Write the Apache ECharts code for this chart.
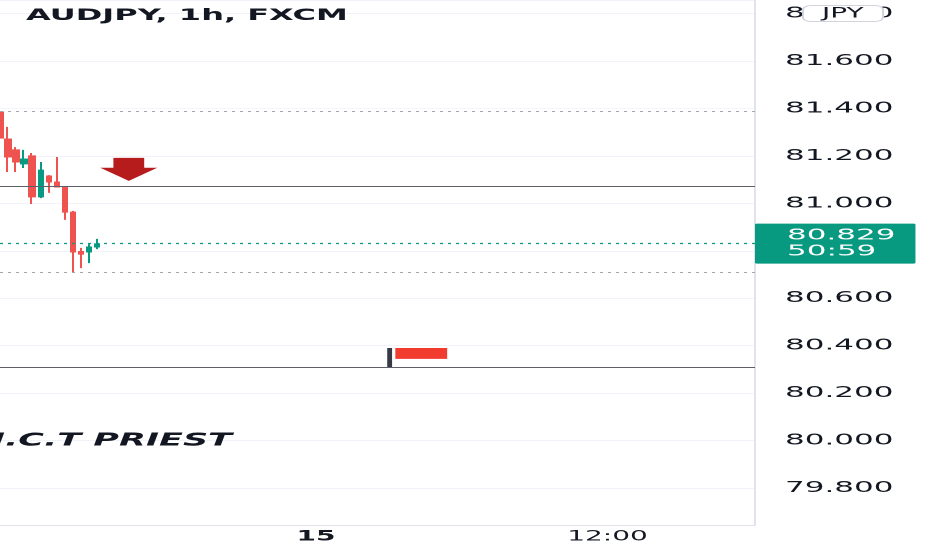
<!DOCTYPE html>
<html>
<head>
<meta charset="utf-8">
<script src="https://cdn.jsdelivr.net/npm/echarts@6/dist/echarts.min.js"></script>
<style>
  html, body { margin: 0; padding: 0; background: #ffffff; overflow: hidden; }
  #chart { width: 466px; height: 550px; transform: scaleX(2); transform-origin: 0 0; }
</style>
</head>
<body>
<div id="chart"></div>
<script>
// ---- data ----
const chartTitle = 'AUDJPY, 1h, FXCM';
const currencyBadge = 'JPY';
const watermarkText = 'I.C.T PRIEST';
const barIndex = [0, 1, 2, 3, 4, 5, 6, 7, 8, 9, 10, 11, 12];
const opens  = [81.385, 81.271, 81.225, 81.166, 81.200, 81.027, 81.115, 81.090, 81.069, 80.963, 80.797, 80.795, 80.816];
const closes = [81.275, 81.195, 81.174, 81.187, 81.027, 81.140, 81.090, 81.069, 80.963, 80.795, 80.786, 80.816, 80.829];
const lows   = [81.267, 81.132, 81.132, 81.149, 80.997, 81.022, 81.044, 81.069, 80.930, 80.706, 80.727, 80.748, 80.807];
const highs  = [81.410, 81.322, 81.237, 81.225, 81.212, 81.174, 81.119, 81.195, 81.073, 80.968, 80.812, 80.828, 80.850];
const countdown = '50:59';
const dottedLevels = [81.393, 80.706];
const solidLevels = [81.069, 80.306];
const timeTickIndex = [39, 75];
const timeTickLabels = ['15', '12:00'];
const yTickInterval = 0.2;
const arrowPoint = [15.9, 81.143];
const flagPole = [[47.8, 80.390], [48.4, 80.306]];
const flagCloth = [[48.8, 80.390], [55.2, 80.344]];

// ---- build ----
const candleData = barIndex.map((x, i) => [x, opens[i], closes[i], lows[i], highs[i]]);
const lastPrice = closes[closes.length - 1];

const FONT = 'DejaVu Sans';
const RED = '#ef5350';
const GREEN = '#089981';

const chart = echarts.init(document.getElementById('chart'), null, { renderer: 'canvas', devicePixelRatio: 2 });

const markLines = [];
dottedLevels.forEach(v => markLines.push({
  yAxis: v, label: { show: false },
  lineStyle: { color: '#a3a6af', width: 1, type: [1.5, 2.5] }
}));
solidLevels.forEach(v => markLines.push({
  yAxis: v, label: { show: false },
  lineStyle: { color: '#5d606b', width: 1, type: 'solid' }
}));
markLines.push({
  yAxis: lastPrice,
  lineStyle: { color: GREEN, width: 1.3, type: [1.5, 2.5], opacity: 1 },
  label: {
    show: true, position: 'end', distance: 0,
    formatter: lastPrice.toFixed(3) + '\n' + countdown,
    backgroundColor: GREEN, color: '#ffffff',
    fontFamily: FONT, fontSize: 15.5, lineHeight: 16,
    padding: [4, 10, 4, 16], borderRadius: 1
  }
});

const option = {
  animation: false,
  backgroundColor: '#ffffff',
  title: [
    {
      text: chartTitle, left: 13, top: 8, padding: 0,
      textStyle: { fontFamily: FONT, fontWeight: 'bold', fontSize: 16, color: '#131722' }
    },
    {
      text: currencyBadge, left: 401, top: 5, padding: [2, 10, 1, 10],
      borderColor: '#d1d4dc', borderWidth: 1, borderRadius: 4, backgroundColor: '#ffffff',
      textStyle: { fontFamily: FONT, fontWeight: 'normal', fontSize: 14, color: '#131722' }
    }
  ],
  graphic: [
    {
      type: 'text', left: -4, top: 432, z: 10,
      style: { text: watermarkText, font: 'italic bold 17.5px "DejaVu Sans"', fill: '#131722' }
    }
  ],
  grid: { left: 0, right: 88.5, top: 0, bottom: 25 },
  xAxis: {
    type: 'value',
    min: 0, max: 93.2,
    axisLine: { show: true, onZero: false, lineStyle: { color: '#e0e3eb' } },
    axisTick: { show: false },
    splitLine: { show: false },
    axisLabel: {
      customValues: timeTickIndex,
      margin: 5,
      fontFamily: FONT, fontSize: 14, color: '#131722',
      formatter: function (v) {
        const k = timeTickIndex.indexOf(Math.round(v));
        if (k < 0) return '';
        return k === 0 ? '{day|' + timeTickLabels[k] + '}' : timeTickLabels[k];
      },
      rich: { day: { fontFamily: FONT, fontSize: 14, fontWeight: 'bold', color: '#131722' } }
    }
  },
  yAxis: {
    type: 'value', position: 'right', scale: true,
    min: 79.644, max: 81.857,
    minInterval: yTickInterval, maxInterval: yTickInterval,
    axisLine: { show: true, onZero: false, lineStyle: { color: '#e0e3eb' } },
    axisTick: { show: false },
    splitLine: { show: true, lineStyle: { color: '#f0f3fa', width: 1 } },
    axisLabel: {
      showMinLabel: false, showMaxLabel: false,
      margin: 15, fontFamily: FONT, fontSize: 15.5, color: '#131722',
      formatter: v => v.toFixed(3)
    }
  },
  series: [
    {
      type: 'candlestick',
      data: candleData,
      encode: { x: 0, y: [1, 2, 3, 4] },
      barWidth: 3,
      itemStyle: { color: GREEN, color0: RED, borderColor: GREEN, borderColor0: RED, borderWidth: 1 },
      markLine: { symbol: ['none', 'none'], silent: true, lineStyle: { color: GREEN }, data: markLines },
      markPoint: {
        silent: true,
        data: [{
          coord: arrowPoint,
          symbol: 'path://M23,0 L77,0 L77,43 L100,43 L50,100 L0,43 L23,43 Z',
          symbolSize: [28.5, 23],
          symbolKeepAspect: false,
          itemStyle: { color: '#b71c1c' },
          label: { show: false }
        }]
      },
      markArea: {
        silent: true,
        data: [
          [{ coord: flagPole[0], itemStyle: { color: '#363a45' } }, { coord: flagPole[1] }],
          [{ coord: flagCloth[0], itemStyle: { color: '#f23b2f' } }, { coord: flagCloth[1] }]
        ]
      }
    }
  ]
};
chart.setOption(option);
</script>
</body>
</html>
